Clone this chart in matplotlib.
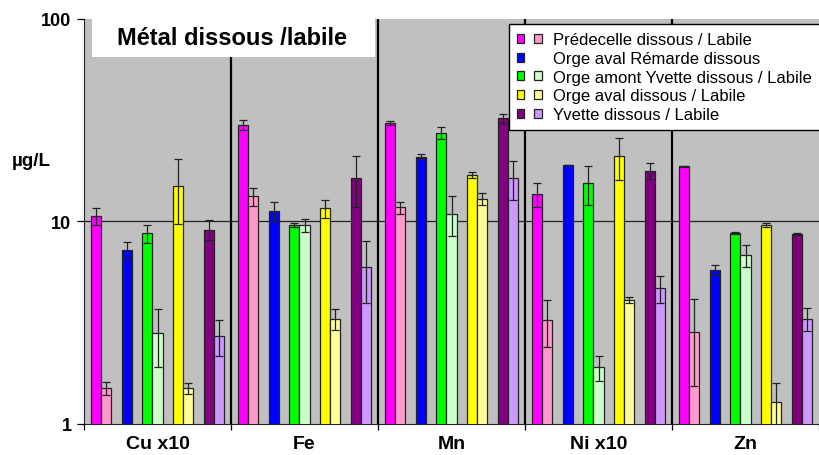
import matplotlib
matplotlib.use('Agg')
import matplotlib.pyplot as plt
import numpy as np
from matplotlib.patches import Patch, Rectangle
from matplotlib.legend_handler import HandlerTuple

plt.rcParams['font.family'] = ['Liberation Sans', 'DejaVu Sans']

# metals (Cu and Ni multiplied by 10)
groups = ["Cu x10", "Fe", "Mn", "Ni x10", "Zn"]

# values, µg/L
pred_dissous = [10.6, 29.9, 30.5, 13.6, 18.7]
pred_dissous_err = [1.0, 1.8, 0.8, 1.9, 0.1]
pred_labile = [1.50, 13.3, 11.7, 3.25, 2.84]
pred_labile_err = [0.11, 1.35, 0.8, 0.85, 1.3]
remarde_dissous = [7.24, 11.2, 20.8, 19.0, 5.77]
remarde_dissous_err = [0.65, 1.2, 0.6, 0.05, 0.3]
amont_dissous = [8.73, 9.6, 27.3, 15.4, 8.73]
amont_dissous_err = [0.9, 0.2, 1.9, 3.3, 0.1]
amont_labile = [2.80, 9.55, 10.9, 1.90, 6.82]
amont_labile_err = [0.9, 0.7, 2.4, 0.27, 0.85]
aval_dissous = [15.0, 11.6, 16.9, 20.9, 9.62]
aval_dissous_err = [5.3, 1.2, 0.6, 5.0, 0.2]
aval_labile = [1.50, 3.30, 12.9, 4.09, 1.29]
aval_labile_err = [0.1, 0.4, 0.85, 0.12, 0.3]
yvette_dissous = [9.1, 16.4, 32.3, 17.8, 8.63]
yvette_dissous_err = [1.0, 4.7, 1.6, 1.7, 0.1]
yvette_labile = [2.71, 5.97, 16.3, 4.67, 3.30]
yvette_labile_err = [0.55, 2.0, 3.5, 0.7, 0.42]

legend_labels = ["Prédecelle dissous / Labile",
                 "Orge aval Rémarde dissous",
                 "Orge amont Yvette dissous / Labile",
                 "Orge aval dissous / Labile",
                 "Yvette dissous / Labile"]

# (values, errors, colour, slot in the group)
series = [
    (pred_dissous, pred_dissous_err, '#FF00FF', 0),
    (pred_labile, pred_labile_err, '#FF99CC', 1),
    (remarde_dissous, remarde_dissous_err, '#0000FF', 3),
    (amont_dissous, amont_dissous_err, '#00FF00', 5),
    (amont_labile, amont_labile_err, '#CCFFCC', 6),
    (aval_dissous, aval_dissous_err, '#FFFF00', 8),
    (aval_labile, aval_labile_err, '#FFFF99', 9),
    (yvette_dissous, yvette_dissous_err, '#800080', 11),
    (yvette_labile, yvette_labile_err, '#CC99FF', 12),
]

n_slots = 13
span = 0.9065
w = span / n_slots
left = (1 - span) / 2

fig = plt.figure(figsize=(8.19, 4.56), dpi=100)
ax = fig.add_axes([84 / 819, 1 - 425 / 456, 735 / 819, 405.4 / 456])
ax.set_facecolor('#C0C0C0')
ax.set_yscale('log')
ax.set_ylim(1, 100)
ax.set_xlim(0, len(groups))

x0 = np.arange(len(groups))
for vals, errs, col, slot in series:
    xs = x0 + left + (slot + 0.5) * w
    ax.bar(xs, vals, width=w, color=col, edgecolor='#222222', linewidth=0.9, zorder=3)
    ax.errorbar(xs, vals, yerr=errs, fmt='none', ecolor='#222222', elinewidth=0.9,
                capsize=3, capthick=0.9, zorder=4)

# gridline and group separators
ax.axhline(10, color='#222222', lw=0.9, zorder=1)
for b in range(1, len(groups)):
    ax.axvline(b, color='black', lw=1.6, zorder=2)

ax.set_yticks([1, 10, 100])
ax.set_yticklabels(['1', '10', '100'], fontsize=13, fontweight='bold')
ax.yaxis.set_minor_locator(matplotlib.ticker.NullLocator())
ax.tick_params(axis='y', direction='out', length=5, width=0.9, pad=4)

ax.set_xticks(np.arange(len(groups) + 1))
ax.set_xticklabels([''] * (len(groups) + 1))
ax.set_xticks(x0 + 0.5, minor=True)
ax.set_xticklabels(groups, minor=True, fontsize=14, fontweight='bold')
ax.tick_params(axis='x', which='major', direction='out', length=4, width=0.9)
ax.tick_params(axis='x', which='minor', length=0, pad=8)

for s in ['top', 'right']:
    ax.spines[s].set_visible(False)
ax.spines['left'].set_color('#222222')
ax.spines['bottom'].set_color('#222222')

# title box
ax.add_patch(Rectangle((0.011, 0.905), 0.385, 0.1, transform=ax.transAxes,
                       facecolor='white', edgecolor='none', zorder=5, clip_on=False))
ax.text(0.202, 0.953, "Métal dissous /labile", transform=ax.transAxes,
        ha='center', va='center', fontsize=17, fontweight='bold', zorder=6)

fig.text(31 / 819, 1 - 162 / 456, "µg/L", ha='center', va='center',
         fontsize=13.5, fontweight='bold')

# legend with dissous / labile swatches side by side
empty = Patch(facecolor='none', edgecolor='none')
handles = []
for i, (dis, lab) in enumerate([(0, 1), (2, None), (3, 4), (5, 6), (7, 8)]):
    p1 = Patch(facecolor=series[dis][2], edgecolor='#222222', linewidth=0.9)
    p2 = empty if lab is None else Patch(facecolor=series[lab][2], edgecolor='#222222', linewidth=0.9)
    handles.append((p1, p2))

leg = fig.legend(handles, legend_labels, loc='upper left',
                 bbox_to_anchor=(509 / 819, 1 - 25 / 456),
                 handler_map={tuple: HandlerTuple(ndivide=None, pad=0.6)},
                 fontsize=12, handlelength=1.45, handleheight=0.45,
                 handletextpad=0.7, labelspacing=0.22, borderpad=0.5,
                 borderaxespad=0, fancybox=False, framealpha=1,
                 edgecolor='black')
leg.get_frame().set_linewidth(1.0)

plt.savefig('out.png', dpi=100)
